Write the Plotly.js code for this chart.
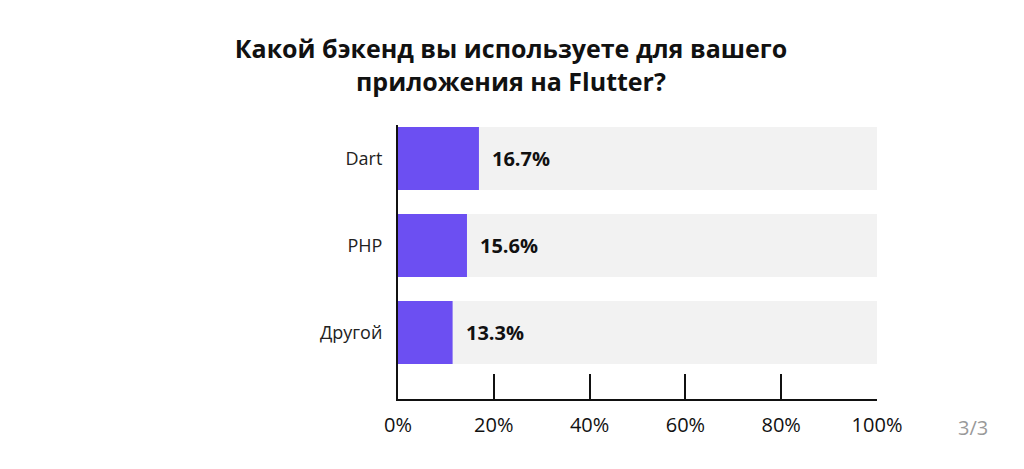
<!DOCTYPE html>
<html>
<head>
<meta charset="utf-8">
<script src="https://cdn.plot.ly/plotly-3.0.1.min.js"></script>
<style>html,body{margin:0;padding:0;background:#fff;}#chart{width:1024px;height:469px;}</style>
</head>
<body>
<div id="chart"></div>
<script>
const categories = ["Dart", "PHP", "Другой"];
const barValues = [16.9, 14.4, 11.4];
const valueLabels = ["16.7%", "15.6%", "13.3%"];
const fullScale = [100, 100, 100];
const tickValues = [0, 20, 40, 60, 80, 100];
const tickLabels = ["0%", "20%", "40%", "60%", "80%", "100%"];
const titleText = "Какой бэкенд вы используете для вашего<br>приложения на Flutter?";
const pageLabel = "3/3";

const FONT = "'Open Sans', Lato, sans-serif";
const yPos = categories.map((c, i) => categories.length - 1 - i);

const traces = [
  {
    type: "bar", orientation: "h",
    x: fullScale, y: yPos,
    width: 0.724,
    marker: {color: "#f2f2f2"},
    hoverinfo: "skip", showlegend: false
  },
  {
    type: "bar", orientation: "h",
    x: barValues, y: yPos,
    width: 0.724,
    marker: {color: "#6c4ff2"},
    showlegend: false
  }
];

const annotations = barValues.map((v, i) => ({
  x: v, y: yPos[i], xref: "x", yref: "y",
  text: valueLabels[i],
  showarrow: false, xanchor: "left", yanchor: "middle",
  xshift: 11,
  font: {family: FONT, size: 20, color: "#111", weight: 700}
}));
annotations.push({
  xref: "paper", yref: "paper", x: 1, y: 0,
  text: pageLabel, showarrow: false,
  xanchor: "left", yanchor: "top",
  xshift: 79, yshift: -13,
  font: {family: FONT, size: 20, color: "#999"}
});

const layout = {
  width: 1024, height: 469,
  margin: {l: 398, r: 147, t: 125, b: 70},
  paper_bgcolor: "#fff", plot_bgcolor: "#fff",
  barmode: "overlay",
  title: {
    text: titleText,
    x: 0.499, xanchor: "center",
    y: 0.876, yanchor: "bottom",
    font: {family: FONT, size: 25, color: "#111", weight: 700}
  },
  xaxis: {
    range: [0, 100],
    tickvals: tickValues, ticktext: tickLabels,
    ticks: "inside", ticklen: 25, tickwidth: 2, tickcolor: "#111",
    showline: true, linecolor: "#111", linewidth: 2,
    showgrid: false, zeroline: false,
    ticklabelstandoff: 7,
    tickfont: {family: FONT, size: 20, color: "#111"},
    fixedrange: true
  },
  yaxis: {
    range: [-0.764, 2.385],
    tickvals: yPos, ticktext: categories,
    ticks: "", showline: true, linecolor: "#111", linewidth: 2,
    showgrid: false, zeroline: false,
    ticklabelstandoff: 10,
    tickfont: {family: FONT, size: 18, color: "#222"},
    fixedrange: true
  },
  annotations: annotations
};

Plotly.newPlot("chart", traces, layout, {displayModeBar: false, staticPlot: true});
</script>
</body>
</html>
